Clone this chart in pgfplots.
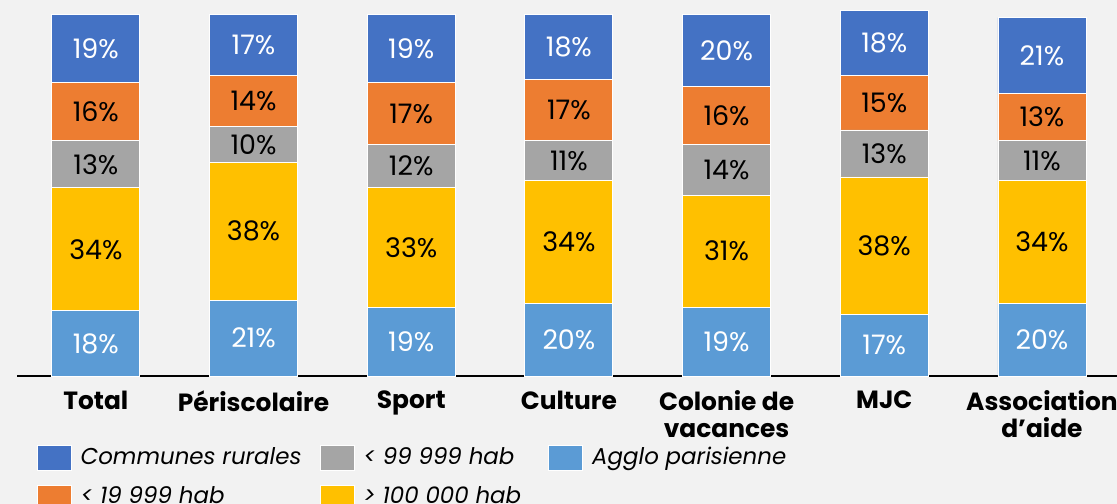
\documentclass[border=0pt]{standalone}
\usepackage{fontspec}
\setmainfont{Poppins}
\usepackage{pgfplots}
\usepackage{pgfplotstable}
\pgfplotsset{compat=1.18}

\definecolor{rural}{HTML}{4472C4}
\definecolor{petit}{HTML}{ED7D31}
\definecolor{moyen}{HTML}{A5A5A5}
\definecolor{grand}{HTML}{FFC000}
\definecolor{agglo}{HTML}{5B9BD5}
\definecolor{fond}{HTML}{F2F2F2}

% share of each commune size, per kind of structure (bottom to top)
\pgfplotstableread{
x agglo grand moyen petit rural
0 18 34 13 16 19
1 21 38 10 14 17
2 19 33 12 17 19
3 20 34 11 17 18
4 19 31 14 16 20
5 17 38 13 15 18
6 20 34 11 13 21
}\parts

\pgfplotsset{frame/.style={
    at={(8.5bp,64bp)}, anchor=south west,
    scale only axis, width=550bp, height=188bp,
    xmin=-0.5, xmax=6.476, ymin=0, ymax=103.9,
    clip=false}}

\begin{document}
\begin{tikzpicture}
\fill[fond] (0,0) rectangle (558.5bp,252bp);
\path[use as bounding box] (0,0) rectangle (558.5bp,252bp);
\begin{axis}[
    frame,
    ybar stacked, bar width=44bp,
    axis x line=bottom, axis y line=none,
    axis line style={-, line width=0.8bp, black},
    xtick={0,...,6},
    xticklabels={Total, Périscolaire, Sport, Culture, {Colonie de\\vacances}, MJC, {Association\\d’aide}},
    xtick style={draw=none},
    xticklabel style={anchor=north, align=center, inner sep=0pt, yshift=-5bp,
        font=\bfseries\fontsize{12.5}{13.5}\selectfont},
    ytick=\empty,
    every axis plot/.append style={draw=white, line width=0.4bp},
    legend columns=3,
    legend style={at={(axis description cs:0.018,-0.184)}, anchor=north west,
        draw=none, fill=none, inner sep=0pt, outer sep=0pt,
        font=\itshape\fontsize{11.5}{14}\selectfont, row sep=6.5bp,
        nodes={inner sep=0pt, text height=8.5bp, text depth=4bp},
        /tikz/every odd column/.style={column sep=4.5bp},
        /tikz/every even column/.style={column sep=4.5bp}},
    legend image code/.code={\fill[#1] (0bp,-5.5bp) rectangle (17bp,7bp);},
]
\addplot[fill=agglo, forget plot] table[x=x, y=agglo] {\parts};
\addplot[fill=grand, forget plot] table[x=x, y=grand] {\parts};
\addplot[fill=moyen, forget plot] table[x=x, y=moyen] {\parts};
\addplot[fill=petit, forget plot] table[x=x, y=petit] {\parts};
\addplot[fill=rural, forget plot] table[x=x, y=rural] {\parts};

\addlegendimage{fill=rural}
\addlegendentry{\makebox[115bp][l]{Communes rurales}}
\addlegendimage{fill=moyen}
\addlegendentry{\makebox[88bp][l]{< 99 999 hab}}
\addlegendimage{fill=agglo}
\addlegendentry{Agglo parisienne}
\addlegendimage{fill=petit}
\addlegendentry{\makebox[115bp][l]{< 19 999 hab}}
\addlegendimage{fill=grand}
\addlegendentry{\makebox[88bp][l]{> 100 000 hab}}
\end{axis}

% value labels, centred in each segment
\begin{axis}[
    frame, hide axis,
    only marks,
    nodes near coords={\pgfplotspointmeta\%},
    point meta=explicit symbolic,
    every node near coord/.append style={anchor=center, inner sep=0pt,
        font=\fontsize{13.5}{15}\selectfont},
]
\addplot[draw=none, mark=none, every node near coord/.append style={text=white}]
    table[x=x, y expr=\thisrow{agglo}/2, meta=agglo] {\parts};
\addplot[draw=none, mark=none, every node near coord/.append style={text=black}]
    table[x=x, y expr=\thisrow{agglo}+\thisrow{grand}/2, meta=grand] {\parts};
\addplot[draw=none, mark=none, every node near coord/.append style={text=black}]
    table[x=x, y expr=\thisrow{agglo}+\thisrow{grand}+\thisrow{moyen}/2, meta=moyen] {\parts};
\addplot[draw=none, mark=none, every node near coord/.append style={text=black}]
    table[x=x, y expr=\thisrow{agglo}+\thisrow{grand}+\thisrow{moyen}+\thisrow{petit}/2, meta=petit] {\parts};
\addplot[draw=none, mark=none, every node near coord/.append style={text=white}]
    table[x=x, y expr=\thisrow{agglo}+\thisrow{grand}+\thisrow{moyen}+\thisrow{petit}+\thisrow{rural}/2, meta=rural] {\parts};
\end{axis}
\end{tikzpicture}
\end{document}
